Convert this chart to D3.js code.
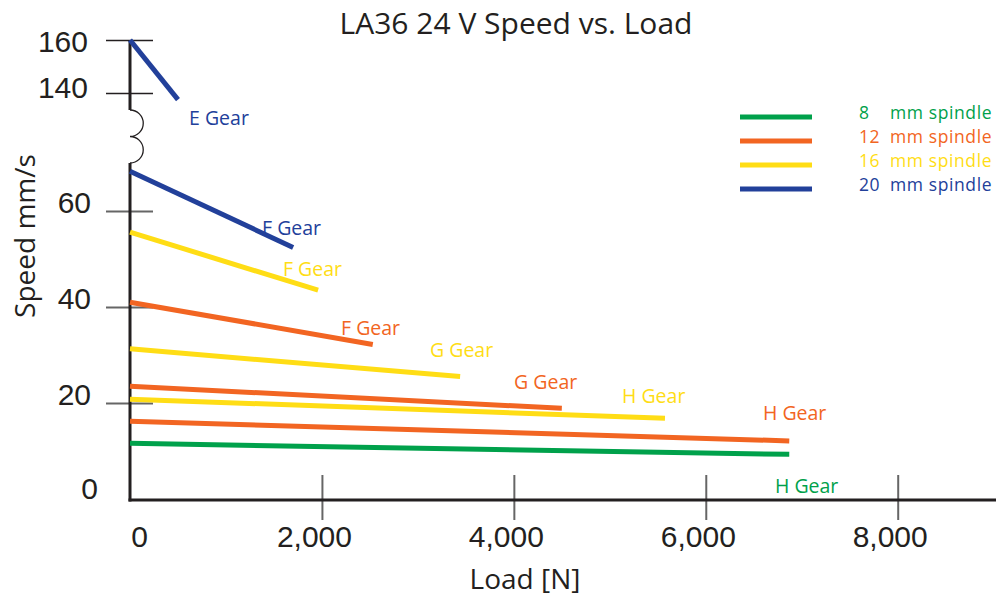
<!DOCTYPE html>
<html>
<head>
<meta charset="utf-8">
<script src="https://cdn.jsdelivr.net/npm/d3@7"></script>
<style>
  html, body { margin: 0; padding: 0; background: #ffffff; }
  svg { display: block; font-family: "Open Sans", "Noto Sans", sans-serif; }
</style>
</head>
<body>
<svg id="chart" width="996" height="601"></svg>
<script>
// ---------- data ----------
const spindleSizes = [8, 12, 16, 20];
const spindleColors = ["#00a14b", "#f26522", "#ffdd15", "#22409a"];

// one segment per spindle / gear combination
const segSpindle    = [20, 20, 16, 12, 16, 12, 16, 12, 8];
const segGear       = ["E Gear", "F Gear", "F Gear", "F Gear", "G Gear", "G Gear", "H Gear", "H Gear", "H Gear"];
const segLoadEnd    = [500, 1700, 1960, 2530, 3440, 4500, 5575, 6870, 6870];
const segSpeedStart = [160, 68.3, 55.6, 41.0, 31.3, 23.5, 20.8, 16.2, 11.6];
const segSpeedEnd   = [137.5, 52.4, 43.5, 32.2, 25.5, 18.9, 16.8, 12.1, 9.3];
// gear label anchors (data units)
const labelLoad  = [615, 1376, 1594, 2199, 3126, 4002, 5127, 6596, 6721];
const labelSpeed = [130.6, 56.5, 48.1, 35.8, 31.25, 24.4, 21.5, 18.1, 2.9];

const xTicks = [0, 2000, 4000, 6000, 8000];
const yTicksLow = [0, 20, 40, 60];
const yTicksHigh = [140, 160];

// ---------- scales ----------
const svg = d3.select("#chart");
const x = d3.scaleLinear().domain([0, 8000]).range([130, 897.7]);
const yLow = d3.scaleLinear().domain([0, 60]).range([499, 211]);
const yHigh = d3.scaleLinear().domain([140, 160]).range([93, 40]);
const y = v => (v > 100 ? yHigh(v) : yLow(v));
const colorOf = s => spindleColors[spindleSizes.indexOf(s)];

const axisColor = "#231f20";
const tickColor = "#666666";

// ---------- title ----------
svg.append("text")
  .attr("x", 516).attr("y", 22)
  .attr("text-anchor", "middle").attr("dominant-baseline", "central")
  .attr("font-size", 30).attr("fill", "#231f20")
  .text("LA36 24 V Speed vs. Load");

// ---------- x axis ----------
const xAxis = d3.axisBottom(x).tickValues(xTicks)
  .tickFormat(d3.format(",")).tickSize(20).tickPadding(0);
const gx = svg.append("g").attr("transform", "translate(0,500)").call(xAxis);
gx.select(".domain").remove();
gx.selectAll(".tick line")
  .attr("y1", d => (d === 0 ? 0 : -25)).attr("y2", d => (d === 0 ? 0 : 20))
  .attr("stroke", tickColor).attr("stroke-width", 2);
gx.selectAll(".tick text")
  .attr("y", 36).attr("dy", 0)
  .attr("dominant-baseline", "central")
  .attr("x", d => (d === 0 ? 9 : -8))
  .attr("font-size", 30).attr("font-family", null).attr("fill", "#231f20");

svg.append("text")
  .attr("x", 525).attr("y", 578)
  .attr("text-anchor", "middle").attr("dominant-baseline", "central")
  .attr("font-size", 28).attr("fill", "#231f20")
  .text("Load [N]");

// ---------- y axes (broken) ----------
const yAxisLow = d3.axisLeft(yLow).tickValues(yTicksLow).tickSize(47).tickPadding(16);
const gyl = svg.append("g").attr("transform", "translate(153,0)").call(yAxisLow);
gyl.select(".domain").remove();
gyl.selectAll(".tick line")
  .attr("x2", d => (d === 0 ? 0 : -47))
  .attr("stroke", tickColor).attr("stroke-width", 2);
gyl.selectAll(".tick text")
  .attr("dy", 0).attr("dominant-baseline", "central")
  .attr("x", d => (d === 0 ? -55 : -62))
  .attr("y", d => (d === 0 ? -11 : -9))
  .attr("font-size", 30).attr("font-family", null).attr("fill", "#231f20");

const yAxisHigh = d3.axisLeft(yHigh).tickValues(yTicksHigh).tickSize(47).tickPadding(16);
const gyh = svg.append("g").attr("transform", "translate(153,0)").call(yAxisHigh);
gyh.select(".domain").remove();
gyh.selectAll(".tick line").attr("stroke", axisColor).attr("stroke-width", 1.5);
gyh.selectAll(".tick text")
  .attr("dy", 0).attr("dominant-baseline", "central")
  .attr("x", -65)
  .attr("y", d => (d === 160 ? 1 : -6))
  .attr("font-size", 30).attr("font-family", null).attr("fill", "#231f20");

// axis line with break symbol
const x0 = x(0);
svg.append("line").attr("x1", x0).attr("x2", x0)
  .attr("y1", yHigh(160)).attr("y2", 110)
  .attr("stroke", axisColor).attr("stroke-width", 3);
svg.append("path")
  .attr("d", `M${x0},110 A13.25,13.25 0 0 1 ${x0},136.5 A13.25,13.25 0 0 1 ${x0},163`)
  .attr("fill", "none").attr("stroke", axisColor).attr("stroke-width", 1.3);
svg.append("line").attr("x1", x0).attr("x2", x0)
  .attr("y1", 163).attr("y2", 501.5)
  .attr("stroke", axisColor).attr("stroke-width", 3);
// x axis line
svg.append("line").attr("x1", x0 - 1.5).attr("x2", 996)
  .attr("y1", 500).attr("y2", 500)
  .attr("stroke", axisColor).attr("stroke-width", 3);

svg.append("text")
  .attr("transform", "translate(24,236) rotate(-90)")
  .attr("text-anchor", "middle").attr("dominant-baseline", "central")
  .attr("font-size", 28).attr("fill", "#231f20")
  .text("Speed mm/s");

// ---------- segments ----------
const segs = segSpindle.map((s, i) => ({
  spindle: s, gear: segGear[i],
  pts: [[0, segSpeedStart[i]], [segLoadEnd[i], segSpeedEnd[i]]],
  lx: labelLoad[i], ly: labelSpeed[i]
}));
const line = d3.line().x(d => x(d[0])).y(d => y(d[1]));

svg.append("g").selectAll("path").data(segs).join("path")
  .attr("d", d => line(d.pts))
  .attr("fill", "none")
  .attr("stroke", d => colorOf(d.spindle))
  .attr("stroke-width", 5);

svg.append("g").selectAll("text").data(segs).join("text")
  .attr("x", d => x(d.lx)).attr("y", d => y(d.ly))
  .attr("dominant-baseline", "central")
  .attr("font-size", 19.5)
  .attr("fill", d => colorOf(d.spindle))
  .text(d => d.gear);

// ---------- legend ----------
const leg = svg.append("g").selectAll("g").data(spindleSizes).join("g")
  .attr("transform", (d, i) => `translate(0,${117 + i * 24})`);
leg.append("line").attr("x1", 740).attr("x2", 812)
  .attr("stroke", (d, i) => spindleColors[i]).attr("stroke-width", 5);
const legText = leg.append("text").attr("y", -5)
  .attr("dominant-baseline", "central").attr("font-size", 17.5)
  .attr("letter-spacing", 0.6)
  .attr("fill", (d, i) => spindleColors[i]);
legText.append("tspan").attr("x", 859).text(d => d);
legText.append("tspan").attr("x", 890).text("mm spindle");
</script>
</body>
</html>
